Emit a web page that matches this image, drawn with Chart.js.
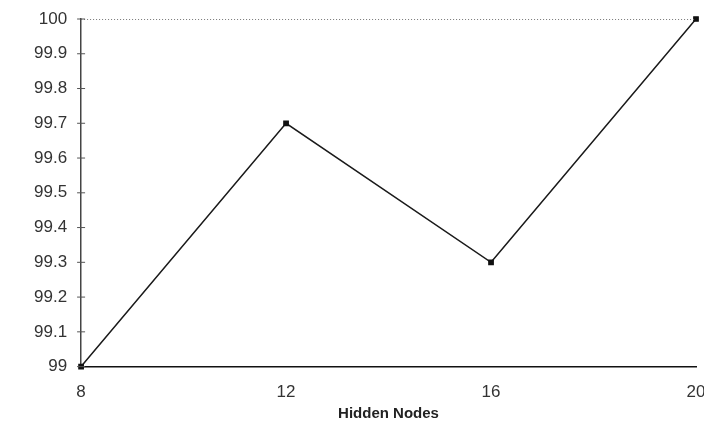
<!DOCTYPE html>
<html>
<head>
<meta charset="utf-8">
<script src="https://cdn.jsdelivr.net/npm/chart.js@4/dist/chart.umd.min.js"></script>
<style>
  html, body { margin: 0; padding: 0; background: #fff; }
  #wrap { width: 704px; height: 425px; }
</style>
</head>
<body>
<div id="wrap"><canvas id="accChart" width="704" height="425"></canvas></div>
<script>
const hiddenNodes = ['8', '12', '16', '20'];
const accuracy = [99, 99.7, 99.3, 100];
const yMin = 99;
const yMax = 100;

// dotted top line and y tick marks that cross the axis
const frameLines = {
    id: 'frameLines',
    afterDatasetsDraw(chart) {
        const ctx = chart.ctx;
        const area = chart.chartArea;
        const y = chart.scales.y;
        ctx.save();
        ctx.strokeStyle = '#777';
        ctx.lineWidth = 1;
        ctx.setLineDash([1, 2]);
        ctx.beginPath();
        ctx.moveTo(area.left, y.getPixelForValue(yMax) + 0.5);
        ctx.lineTo(area.right, y.getPixelForValue(yMax) + 0.5);
        ctx.stroke();
        ctx.setLineDash([]);
        ctx.strokeStyle = '#555';
        y.ticks.forEach(t => {
            const py = y.getPixelForValue(t.value);
            ctx.beginPath();
            ctx.moveTo(area.left - 4, py);
            ctx.lineTo(area.left + 4, py);
            ctx.stroke();
        });
        ctx.restore();
    }
};

const ctx = document.getElementById('accChart').getContext('2d');
const accChart = new Chart(ctx, {
    type: 'line',
    data: {
        labels: hiddenNodes,
        datasets: [{
            data: accuracy,
            borderColor: '#1a1a1a',
            borderWidth: 1.5,
            pointStyle: 'rect',
            pointRadius: 3,
            pointBackgroundColor: '#111',
            pointBorderColor: '#111',
            tension: 0,
            fill: false,
            clip: false
        }]
    },
    options: {
        responsive: false,
        animation: false,
        layout: { padding: { left: 20, right: 8, top: 19, bottom: 2 } },
        plugins: {
            legend: { display: false },
            tooltip: { enabled: false }
        },
        scales: {
            x: {
                type: 'category',
                offset: false,
                afterFit: s => { s.paddingLeft = 0; s.paddingRight = 0; },
                grid: { display: false, drawTicks: false },
                border: { display: true, color: '#111', width: 1.5 },
                ticks: {
                    padding: 16,
                    color: '#333',
                    font: { family: 'Liberation Sans', size: 17 },
                    maxRotation: 0
                },
                title: {
                    display: true,
                    text: 'Hidden Nodes',
                    color: '#222',
                    font: { family: 'Liberation Sans', size: 15, weight: 'bold' },
                    padding: { top: -14, bottom: 0 }
                }
            },
            y: {
                min: yMin,
                max: yMax,
                afterFit: s => { s.paddingTop = 0; s.paddingBottom = 0; },
                grid: { display: false, drawTicks: false },
                border: { display: true, color: '#444', width: 1.5 },
                ticks: {
                    stepSize: 0.1,
                    padding: 14,
                    color: '#333',
                    font: { family: 'Liberation Sans', size: 17 },
                    callback: v => Number(v.toFixed(1)).toString()
                }
            }
        }
    },
    plugins: [frameLines]
});
</script>
</body>
</html>
